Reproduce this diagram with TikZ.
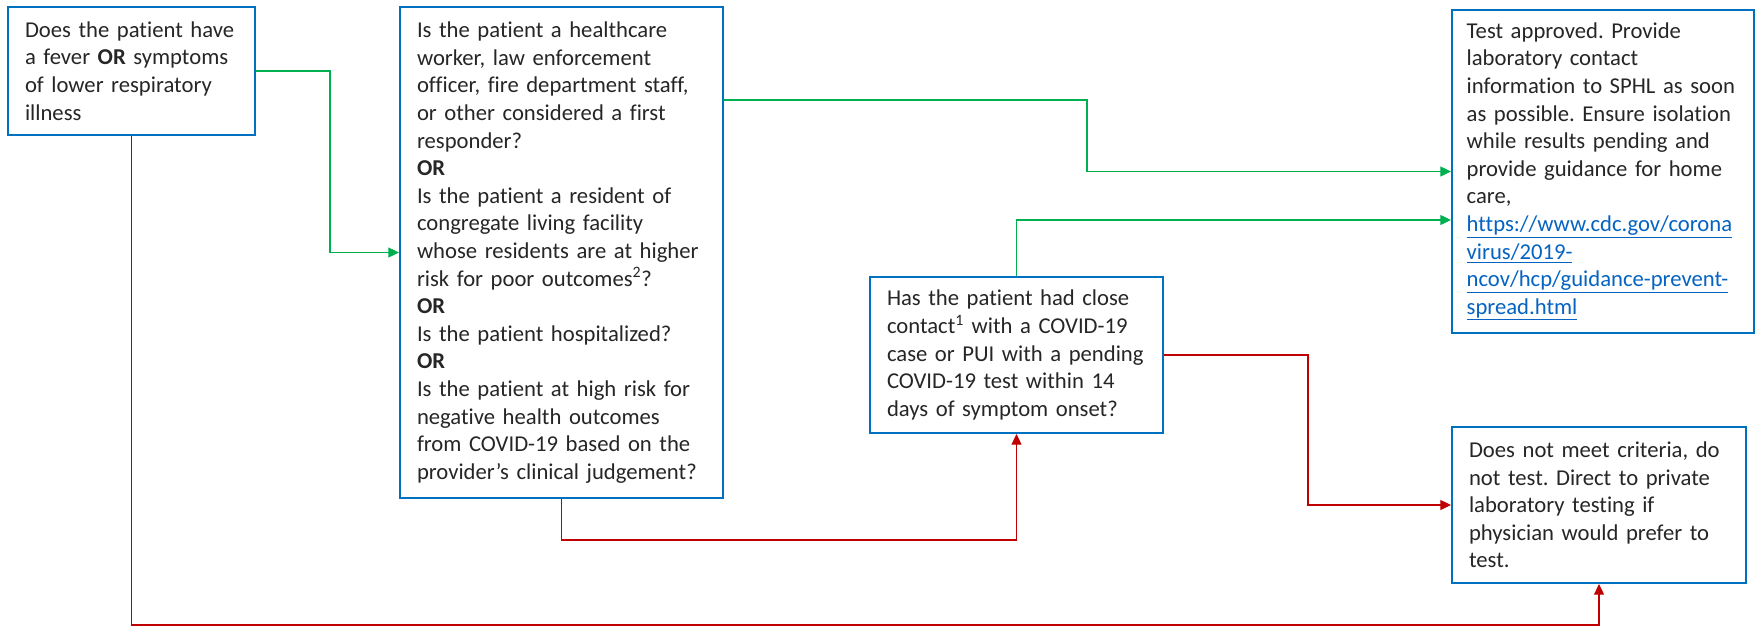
\documentclass[tikz,border=0pt]{standalone}
\usepackage{fontspec}
\setmainfont{Carlito}[Ligatures=CommonOff]
\usepackage{xcolor}
\usetikzlibrary{arrows.meta}
\definecolor{boxblue}{HTML}{0070C0}
\definecolor{yesgreen}{HTML}{00B050}
\definecolor{nored}{HTML}{C00000}
\definecolor{linkblue}{HTML}{0563C1}
\newcommand{\lnk}[1]{\textcolor{linkblue}{\underline{#1}}}
\frenchspacing
\hyphenpenalty=10000
\exhyphenpenalty=10000

\begin{document}
\begin{tikzpicture}[x=0.75pt, y=-0.75pt,
    box/.style={draw=boxblue, fill=white, line width=1.5pt, align=left, inner xsep=12.75pt,
      inner ysep=0pt, text=black!85, font=\fontsize{17}{20.7}\selectfont},
    yes/.style={yesgreen, line width=0.9pt, -{Triangle[length=8pt,width=7.5pt]}},
    no/.style={nored, line width=0.9pt, -{Triangle[length=8pt,width=7.5pt]}}]
    \useasboundingbox (0,0) rectangle (1756,626);
    % boxes
    \node[box, minimum width=185.25pt, minimum height=96pt, text width=159.75pt] (f) at (131.5, 71)
      {Does the patient have\\a fever \textbf{OR} symptoms\\of lower respiratory\\illness};
    \node[box, minimum width=242.25pt, minimum height=368.25pt, text width=216.75pt] (q) at (561.5, 252.5)
      {Is the patient a healthcare\\worker, law enforcement\\officer, fire department staff,\\or other considered a first\\responder?\\
       \textbf{OR}\\Is the patient a resident of\\congregate living facility\\whose residents are at higher\\risk for poor outcomes\textsuperscript{2}?\\
       \textbf{OR}\\Is the patient hospitalized?\\
       \textbf{OR}\\Is the patient at high risk for\\negative health outcomes\\from COVID-19 based on the\\provider's clinical judgement?};
    \node[box, minimum width=219.75pt, minimum height=117pt, text width=194.25pt] (c) at (1016.5, 355)
      {Has the patient had close\\contact\textsuperscript{1} with a COVID-19\\case or PUI with a pending\\COVID-19 test within 14\\days of symptom onset?};
    \node[box, minimum width=226.5pt, minimum height=242.25pt, inner xsep=11pt, text width=204.5pt] (t) at (1603, 171.5)
      {Test approved. Provide\\laboratory contact\\information to SPHL as soon\\as possible. Ensure isolation\\while results pending and\\provide guidance for home\\care,\\
       \lnk{https://www.cdc.gov/corona}\\\lnk{virus/2019-}\\\lnk{ncov/hcp/guidance-prevent-}\\\lnk{spread.html}};
    \node[box, minimum width=220.5pt, minimum height=117pt, text width=195pt] (n) at (1599, 505)
      {Does not meet criteria, do\\not test. Direct to private\\laboratory testing if\\physician would prefer to\\test.};
    % yes
    \draw[yes] (f.east) -- ++(74,0) |- (q.west);
    \draw[yes] (q.east |- 0,100) -- (1087,100) |- (t.west);
    \draw[yes] (c.north) |- (t.west |- 0,220);
    % no
    \draw[no] (q.south) -- ++(0,41) -| (c.south);
    \draw[no] (c.east) -- (1308,355) |- (n.west);
    \draw[no] (f.south) -- ++(0,489) -| (n.south);
\end{tikzpicture}
\end{document}
